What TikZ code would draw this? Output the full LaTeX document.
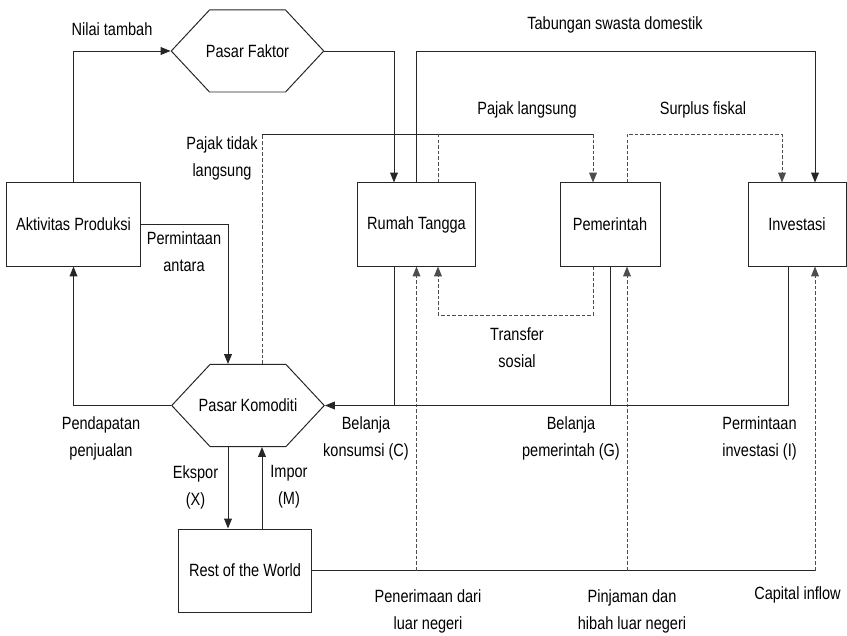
\documentclass[tikz,border=0pt]{standalone}
\usepackage{fontspec}
\setmainfont{Liberation Sans}[FakeStretch=0.82]
\usetikzlibrary{shapes.symbols, arrows.meta, calc}
\definecolor{samLine}{HTML}{262626}
\definecolor{samDash}{HTML}{4D4D4D}
\newcommand{\samfont}{\fontsize{12.6}{19.2}\selectfont}
\tikzset{
  sam/box/.style      = {rectangle, draw=samLine, fill=white, line width=0.7pt,
                         align=center, font=\samfont, minimum height=2.075cm, inner sep=2pt},
  sam/market/.style   = {signal, signal to=west and east, signal pointer angle=94,
                         draw=samLine, fill=white, line width=0.7pt, font=\samfont,
                         text width=3cm, align=flush center, inner xsep=-0.55cm, inner ysep=0pt,
                         minimum width=0pt, minimum height=2.05cm},
  sam/arrow/.style    = {-{Triangle[length=7pt,width=5.5pt]}, line width=0.7pt, draw=samLine},
  sam/line/.style     = {line width=0.7pt, draw=samLine},
  sam/dashed/.style   = {sam/arrow, draw=samDash, dash pattern=on 2.5pt off 1.5pt},
  sam/label/.style    = {align=center, font=\samfont, inner sep=0pt},
}
\begin{document}
\begin{tikzpicture}[x=0.025cm, y=-0.025cm]
  \useasboundingbox (0,0) rectangle (847,636);
  % --- Markets (hexagons) ---
  \node[sam/market] (pf) at (247.5, 51)  {\mbox{Pasar Faktor}};
  \node[sam/market] (pk) at (248, 405.5) {\mbox{Pasar Komoditi}};
  % --- Accounts ---
  \node[sam/box, minimum width=3.325cm] (ap)  at (73.5, 224.5)  {Aktivitas Produksi};
  \node[sam/box, minimum width=2.925cm] (rt)  at (416.5, 224.5) {Rumah Tangga};
  \node[sam/box, minimum width=2.5cm]   (pm)  at (610, 224.5)   {Pemerintah};
  \node[sam/box, minimum width=2.45cm]  (inv) at (797, 224.5)   {Investasi};
  \node[sam/box, minimum width=3.3cm]   (row) at (245, 570.5)   {Rest of the World};
  % --- Rows of the tax and transfer loops ---
  \coordinate (tax) at (0,134);
  \coordinate (soc) at (0,315);
  % --- Ports on the box edges ---
  \coordinate (rtTL)  at ($(rt.north)+(-22.5,0)$);
  \coordinate (rtTR)  at ($(rt.north)+(21.5,0)$);
  \coordinate (rtBL)  at ($(rt.south)+(-22.5,0)$);
  \coordinate (rtBR)  at ($(rt.south)+(21.5,0)$);
  \coordinate (pmTL)  at ($(pm.north)+(-17,0)$);
  \coordinate (pmTR)  at ($(pm.north)+(17,0)$);
  \coordinate (pmBL)  at ($(pm.south)+(-17,0)$);
  \coordinate (pmBR)  at ($(pm.south)+(17,0)$);
  \coordinate (invTL) at ($(inv.north)+(-15,0)$);
  \coordinate (invTR) at ($(inv.north)+(18,0)$);
  \coordinate (invBL) at ($(inv.south)+(-9,0)$);
  \coordinate (invBR) at ($(inv.south)+(18,0)$);
  \coordinate (pkTL)  at ($(pk.north)+(-20,0)$);
  \coordinate (pkTR)  at ($(pk.north)+(14,0)$);
  \coordinate (pkBL)  at ($(pk.south)+(-20,0)$);
  \coordinate (pkBR)  at ($(pk.south)+(14,0)$);
  % --- Factor market loop ---
  \draw[sam/arrow] (ap.north) |- (pf.west);
  \draw[sam/arrow] (pf.east) -| (rtTL);
  \draw[sam/arrow] (rt.north) -- (rt.north |- pf.east) -| (invTR);
  % --- Taxes ---
  \draw[sam/line] (pkTR |- tax) -- (pmTL |- tax);
  \draw[sam/dashed, -] (pkTR) -- (pkTR |- tax);
  \draw[sam/dashed, -] (rtTR) -- (rtTR |- tax);
  \draw[sam/dashed] (pmTL |- tax) -- (pmTL);
  \draw[sam/dashed] (pmTR) |- (tax -| invTL) -- (invTL);
  % --- Social transfers ---
  \draw[sam/dashed] (pmBL) |- (soc -| rtBR) -- (rtBR);
  % --- Commodity market ---
  \draw[sam/arrow] (ap.east) -| (pkTL);
  \draw[sam/arrow] (pk.west) -| (ap.south);
  \draw[sam/line]  (rtBL) -- (rtBL |- pk.east);
  \draw[sam/line]  (pm.south) -- (pm.south |- pk.east);
  \draw[sam/arrow] (invBL) |- (pk.east);
  % --- Trade with the rest of the world ---
  \draw[sam/arrow] (pkBL) -- (pkBL |- row.north);
  \draw[sam/arrow] (pkBR |- row.north) -- (pkBR);
  \draw[sam/line]  (row.east) -- (row.east -| invBR);
  \draw[sam/dashed] (row.east -| rt.south) -- (rt.south);
  \draw[sam/dashed] (row.east -| pmBR) -- (pmBR);
  \draw[sam/dashed] (row.east -| invBR) -- (invBR);
  % --- Flow labels ---
  \node[sam/label] (lNilai)   at (112, 29)    {Nilai tambah};
  \node[sam/label] (lTabung)  at (615, 25)    {Tabungan swasta domestik};
  \node[sam/label] (lPajakL)  at (527, 110)   {Pajak langsung};
  \node[sam/label] (lSurplus) at (703, 110)   {Surplus fiskal};
  \node[sam/label] (lPajakT)  at (222, 158)   {Pajak tidak\\langsung};
  \node[sam/label] (lAntara)  at (184, 252)   {Permintaan\\antara};
  \node[sam/label] (lTransf)  at (517, 348)   {Transfer\\sosial};
  \node[sam/label] (lJual)    at (101, 438)   {Pendapatan\\penjualan};
  \node[sam/label] (lBelC)    at (366, 438)   {Belanja\\konsumsi (C)};
  \node[sam/label] (lBelG)    at (571, 438)   {Belanja\\pemerintah (G)};
  \node[sam/label] (lInvest)  at (759.5, 438) {Permintaan\\investasi (I)};
  \node[sam/label] (lEkspor)  at (195.5, 487) {Ekspor\\(X)};
  \node[sam/label] (lImpor)   at (289, 487)   {Impor\\(M)};
  \node[sam/label] (lTerima)  at (428, 611)   {Penerimaan dari\\luar negeri};
  \node[sam/label] (lPinjam)  at (632, 611)   {Pinjaman dan\\hibah luar negeri};
  \node[sam/label] (lCapital) at (797.5, 595) {Capital inflow};
\end{tikzpicture}
\end{document}
